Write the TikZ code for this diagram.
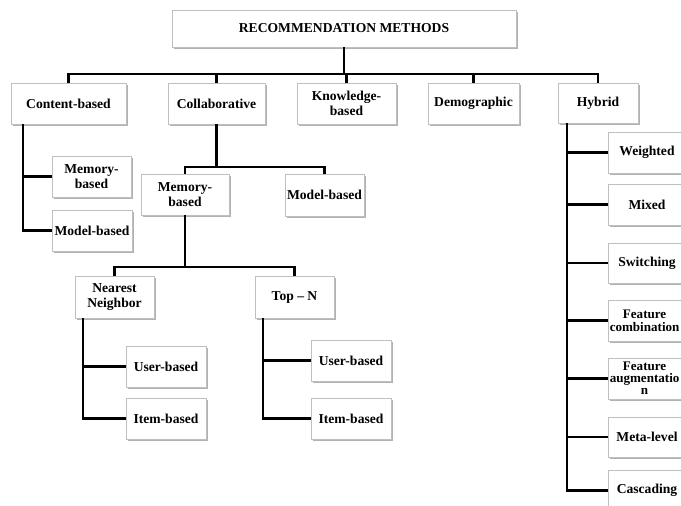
\documentclass[tikz,border=0pt]{standalone}
\usepackage{fontspec}
\setmainfont{Liberation Serif}
\usetikzlibrary{shadows}
\tikzset{
  box/.style={draw=black!25, line width=0.6pt, fill=white,
    font=\bfseries\fontsize{10.2}{11.25}\selectfont, align=center, inner sep=0pt,
    drop shadow={shadow xshift=1.3pt, shadow yshift=-1.3pt, opacity=0.3, fill=black}},
  link/.style={line width=1.6pt, draw=black},
  edgetext/.style={font=\bfseries\fontsize{9.8}{9.5}\selectfont, align=center, inner sep=0pt, xshift=-1.8pt},
}
\newcommand\bx[7][]{\node[box, minimum width={(#5-#3)*0.75pt}, minimum height={(#6-#4)*0.75pt}, #1] (#2) at ({(#3+#5)/2},{(#4+#6)/2}) {#7};}
\begin{document}
\begin{tikzpicture}[x=0.75pt,y=-0.75pt]
\clip (0,0) rectangle (681,506);
\fill[white] (0,0) rectangle (681,506);
% boxes
\bx{title}{172}{10}{516}{47}{RECOMMENDATION METHODS}
\bx{cb}{11}{83}{126}{124}{Content-based}
\bx{col}{168}{83}{265}{124}{Collaborative}
\bx{kb}{297}{83}{396}{124}{Knowledge-\\based}
\bx{dem}{428}{83}{519}{124}{Demographic}
\bx{hy}{558}{83}{638}{123}{Hybrid}
\bx{cbmem}{52}{156}{131}{197}{Memory-\\based}
\bx{cbmod}{52}{210}{132}{251}{Model-based}
\bx{cmem}{141}{174}{229}{215}{Memory-\\based}
\bx{cmod}{285}{174}{364}{216}{Model-based}
\bx{nn}{75}{276}{154}{318}{Nearest\\Neighbor}
\bx{topn}{255}{276}{334}{318}{Top \textendash\ N}
\bx{nnuser}{126}{346}{206}{387}{User-based}
\bx{nnitem}{126}{398}{206}{439}{Item-based}
\bx{tnuser}{311}{340}{391}{381}{User-based}
\bx{tnitem}{311}{398}{391}{439}{Item-based}
\bx{hw}{608}{132}{686}{173}{Weighted}
\bx{hm}{608}{184}{686}{225}{Mixed}
\bx{hs}{608}{243}{686}{283}{Switching}
\bx[label={[edgetext]center:Feature\\combination}]{hfc}{608}{300}{686}{341}{}
\bx[label={[edgetext,font=\bfseries\fontsize{9.8}{9}\selectfont]center:Feature\\augmentatio\\n}]{hfa}{608}{358}{686}{399}{}
\bx{hml}{608}{417}{686}{457}{Meta-level}
\bx{hc}{608}{470}{686}{511}{Cascading}
% top level connectors
\coordinate (bar) at (344,74);
\draw[link] (title.south) -- (title.south |- bar);
\draw[link] (cb.north) -- (cb.north |- bar) -- (hy.north |- bar) -- (hy.north);
\foreach \n in {col,kb,dem} \draw[link] (\n.north) -- (\n.north |- bar);
% content-based
\coordinate (cbx) at (23,0);
\draw[link] (cbx |- cb.south) |- (cbmod.west);
\draw[link] (cbx |- cbmem.west) -- (cbmem.west);
% collaborative
\coordinate (cbar) at (0,167);
\draw[link] (col.south) -- (col.south |- cbar);
\draw[link] (cmem.north) -- (cmem.north |- cbar) -| (cmod.north);
% memory-based
\coordinate (mbar) at (0,267);
\draw[link] (cmem.south) -- (cmem.south |- mbar);
\draw[link] (nn.north) -- (nn.north |- mbar) -| (topn.north);
% nearest neighbor
\coordinate (nnx) at (83,0);
\draw[link] (nnx |- nn.south) |- (nnitem.west);
\draw[link] (nnx |- nnuser.west) -- (nnuser.west);
% top-n
\coordinate (tnx) at (263,0);
\draw[link] (tnx |- topn.south) |- (tnitem.west);
\draw[link] (tnx |- tnuser.west) -- (tnuser.west);
% hybrid
\coordinate (hyx) at (567,0);
\draw[link] (hyx |- hy.south) |- (hc.west);
\foreach \n in {hw,hm,hs,hfc,hfa,hml} \draw[link] (hyx |- \n.west) -- (\n.west);
\end{tikzpicture}
\end{document}
